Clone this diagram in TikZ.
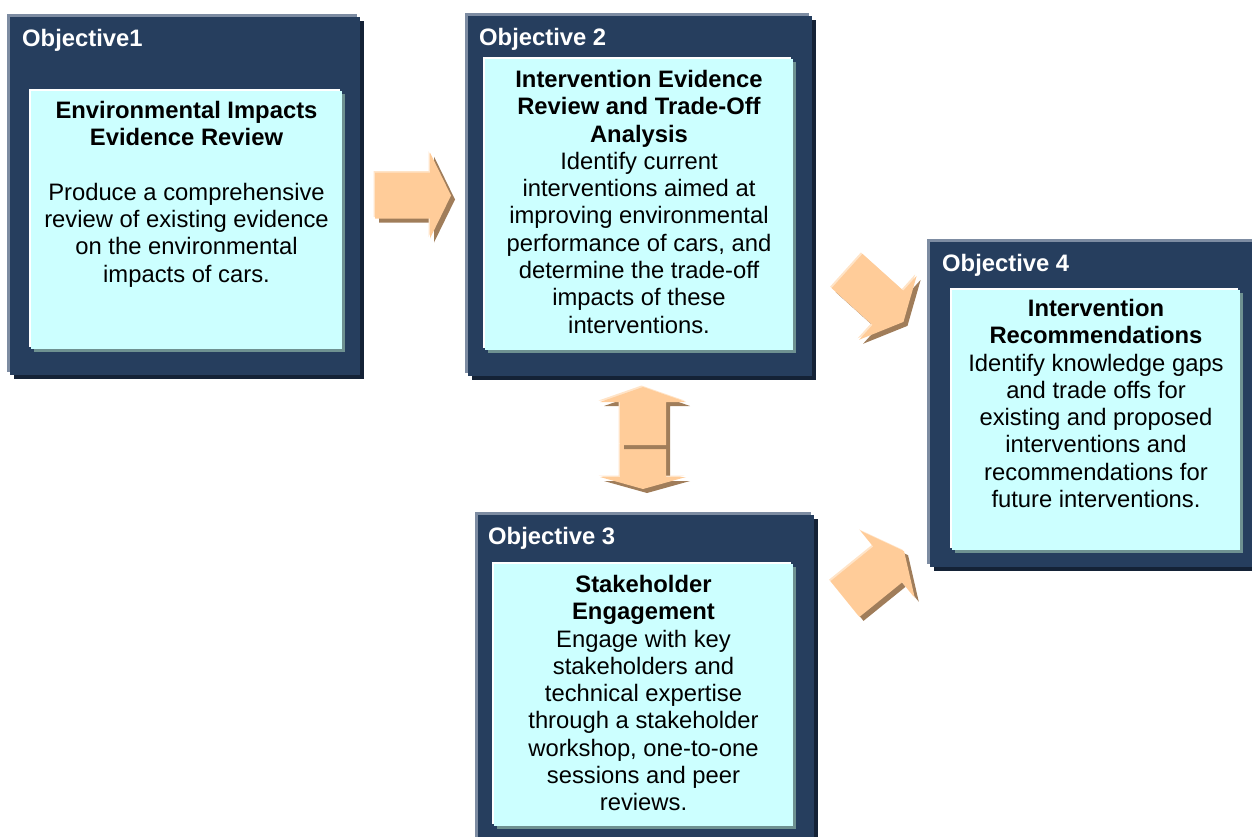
\documentclass[tikz,border=0pt]{standalone}
\usepackage{fontspec}
\setmainfont{Liberation Sans}
\usetikzlibrary{positioning,shadows}

\definecolor{objnavy}{RGB}{38,62,94}
\definecolor{objdark}{RGB}{20,34,54}
\definecolor{objlight}{RGB}{125,140,162}
\definecolor{objcyan}{RGB}{204,255,255}
\definecolor{cyanshade}{RGB}{110,145,145}
\definecolor{arrowfill}{RGB}{255,204,153}
\definecolor{arrowlight}{RGB}{255,228,200}
\definecolor{arrowshade}{RGB}{160,125,90}

\newcommand{\objfont}{\fontsize{23.8pt}{27.3pt}\selectfont}

\tikzset{
  navybox/.style={rectangle, fill=objnavy, inner sep=0pt, outer sep=0pt, anchor=north west,
    drop shadow={shadow xshift=4pt, shadow yshift=-4pt, fill=objdark, opacity=1},
    drop shadow={shadow xshift=-3pt, shadow yshift=3pt, fill=objlight, opacity=1}},
  cyanbox/.style={rectangle, fill=objcyan, inner sep=0pt, outer sep=0pt, anchor=north west,
    drop shadow={shadow xshift=3pt, shadow yshift=-3pt, fill=cyanshade, opacity=1},
    drop shadow={shadow xshift=-2pt, shadow yshift=2pt, fill=white, opacity=1}},
  objlabel/.style={text=white, font=\objfont\bfseries, inner sep=0pt, anchor=base west},
  objtext/.style={align=center, font=\objfont, inner sep=0pt},
}

% block arrow: tail x, tail y, angle, shaft length, head length
\newcommand{\arrowpath}[2]{(0,-23) -- (#1,-23) -- (#1,-43) -- (#1+#2,0) -- (#1,43) -- (#1,23) -- (0,23) -- cycle}
\newcommand{\blockarrow}[5]{%
  \fill[arrowshade, shift={(#1+4,#2+4)}, rotate=#3] \arrowpath{#4}{#5};
  \fill[arrowlight, shift={(#1-1.5,#2-1.5)}, rotate=#3] \arrowpath{#4}{#5};
  \fill[arrowfill, shift={(#1,#2)}, rotate=#3] \arrowpath{#4}{#5};}

\begin{document}
\begin{tikzpicture}[x=1pt, y=-1pt]
  \useasboundingbox (0,0) rectangle (1252,836);
  \clip (0,0) rectangle (1252,836);

  % objective 1
  \node[navybox, minimum width=350pt, minimum height=358pt] (obj1) at (10,17) {};
  \node[cyanbox, minimum width=311pt, minimum height=258pt] (in1) at (31,91) {};
  \node[objlabel] (lab1) at ([shift={(12,29)}]obj1.north west) {Objective1};
  \node[objtext, below=10pt of in1.north] (txt1) {\textbf{Environmental Impacts}\\\textbf{Evidence Review}\\[27.3pt]
    Produce a comprehensive\\review of existing evidence\\on the environmental\\impacts of cars.};

  % objective 2
  \node[navybox, minimum width=344pt, minimum height=360pt] (obj2) at (468,16) {};
  \node[cyanbox, minimum width=308pt, minimum height=291pt] (in2) at (485,59) {};
  \node[objlabel] (lab2) at ([shift={(11,29)}]obj2.north west) {Objective 2};
  \node[objtext, below=11pt of in2.north] (txt2) {\textbf{Intervention Evidence}\\\textbf{Review and Trade-Off}\\\textbf{Analysis}\\
    Identify current\\interventions aimed at\\improving environmental\\performance of cars, and\\determine the trade-off\\impacts of these\\interventions.};

  % objective 3
  \node[navybox, minimum width=336pt, minimum height=335pt] (obj3) at (478,515) {};
  \node[cyanbox, minimum width=299pt, minimum height=262pt] (in3) at (494,564) {};
  \node[objlabel] (lab3) at ([shift={(10,29)}]obj3.north west) {Objective 3};
  \node[objtext, below=11pt of in3.north] (txt3) {\textbf{Stakeholder}\\\textbf{Engagement}\\
    Engage with key\\stakeholders and\\technical expertise\\through a stakeholder\\workshop, one-to-one\\sessions and peer\\reviews.};

  % objective 4
  \node[navybox, minimum width=330pt, minimum height=325pt] (obj4) at (930,242) {};
  \node[cyanbox, minimum width=288pt, minimum height=260pt] (in4) at (952,290) {};
  \node[objlabel] (lab4) at ([shift={(12,29)}]obj4.north west) {Objective 4};
  \node[objtext, below=9pt of in4.north] (txt4) {\textbf{Intervention}\\\textbf{Recommendations}\\
    Identify knowledge gaps\\and trade offs for\\existing and proposed\\interventions and\\recommendations for\\future interventions.};

  % arrows
  \blockarrow{375}{195.5}{0}{55}{21}
  \blockarrow{847}{271}{-42}{55}{21}
  \blockarrow{845}{599}{39}{55}{21}
  \blockarrow{643}{445}{-90}{32}{12}
  \blockarrow{643}{445}{90}{43}{15}
\end{tikzpicture}
\end{document}
